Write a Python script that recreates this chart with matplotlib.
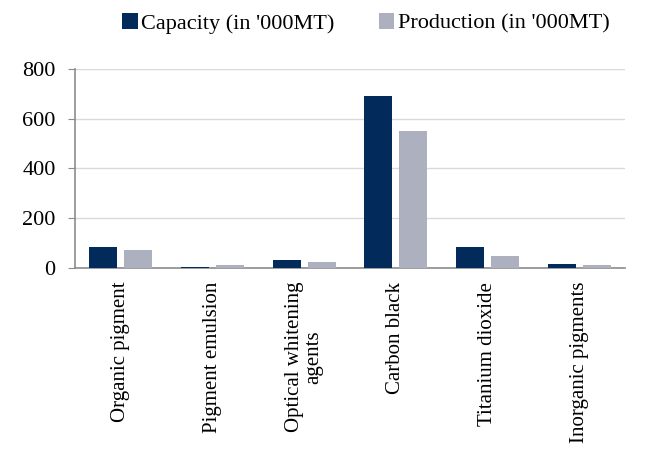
import numpy as np
import matplotlib.pyplot as plt

categories = ['Organic pigment', 'Pigment emulsion', 'Optical whitening\nagents',
              'Carbon black', 'Titanium dioxide', 'Inorganic pigments']
capacity = [83, 5, 33, 690, 83, 17]
production = [72, 11, 25, 550, 49, 11]

plt.rcParams['font.family'] = ['Liberation Serif', 'DejaVu Serif']

fig = plt.figure(figsize=(6.71, 4.68), dpi=100)
ax = fig.add_axes([0.1118, 0.4274, 0.8196, 0.4252])

x = np.arange(len(categories))
w = 0.305
ax.bar(x - w/2 - 0.038, capacity, w, color='#022b5c', label="Capacity (in '000MT)", zorder=3)
ax.bar(x + w/2 + 0.038, production, w, color='#adb0bf', label="Production (in '000MT)", zorder=3)

ax.set_xlim(-0.5, len(categories) - 0.5)
ax.set_ylim(0, 800)
ax.set_yticks([0, 200, 400, 600, 800])
ax.yaxis.grid(True, color='#d9d9d9', linewidth=1, zorder=0)
ax.tick_params(axis='y', direction='out', length=5, color='#8c8c8c', labelsize=16, pad=9)
ax.set_xticks(x)
ax.set_xticklabels(categories, rotation=90, fontsize=15, ha='center', va='top',
                   multialignment='center', linespacing=1.0)
ax.tick_params(axis='x', length=0, pad=10)

for s in ['top', 'right']:
    ax.spines[s].set_visible(False)
for s in ['left', 'bottom']:
    ax.spines[s].set_color('#8c8c8c')
    ax.spines[s].set_linewidth(1.2)

fig.legend(loc='upper center', bbox_to_anchor=(0.545, 1.015), ncol=2, frameon=False,
           fontsize=16, handlelength=0.7, handleheight=0.7, handletextpad=0.15,
           columnspacing=2.0)

fig.savefig('out.png', dpi=100)
